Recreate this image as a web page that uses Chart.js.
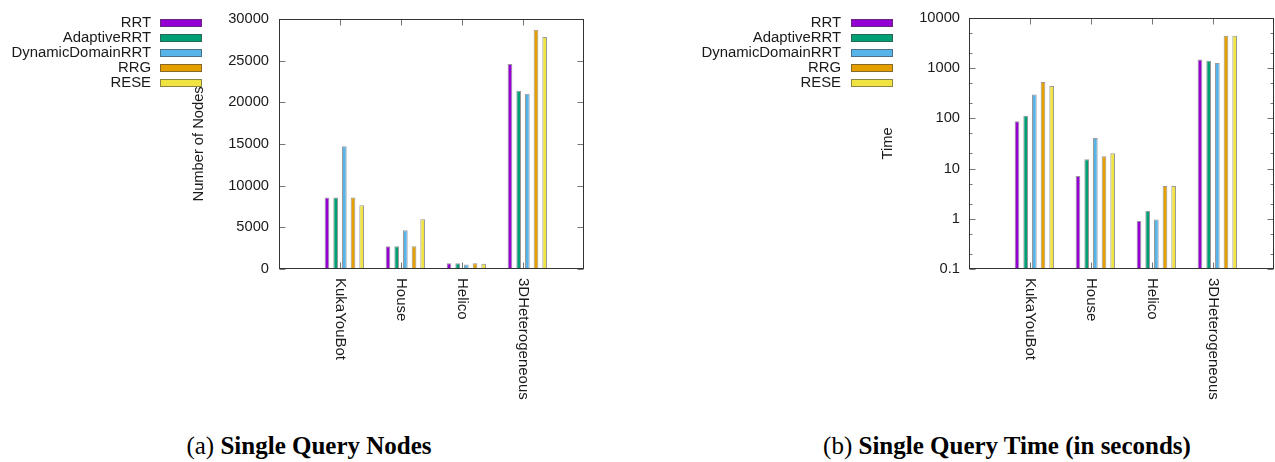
<!DOCTYPE html>
<html><head><meta charset="utf-8">
<script src="https://cdn.jsdelivr.net/npm/chart.js@4"></script>
<style>
html,body{margin:0;padding:0;background:#fff;width:1275px;height:462px;overflow:hidden;position:relative}
canvas{position:absolute;top:0}
#c1{left:0}
#c2{left:637px}
.cap{position:absolute;font-family:'Liberation Serif','Times New Roman',serif;font-size:25px;line-height:26px;color:#000;text-align:center;white-space:nowrap}
.cap b{font-weight:bold}
</style></head><body>
<canvas id="c1" width="637" height="400"></canvas>
<canvas id="c2" width="638" height="400"></canvas>
<div class="cap" style="left:59px;width:500px;top:433px">(a) <b>Single Query Nodes</b></div>
<div class="cap" style="left:757px;width:500px;top:433px">(b) <b>Single Query Time (in seconds)</b></div>
<script>
// ---------- data ----------
const categories = ['KukaYouBot', 'House', 'Helico', '3DHeterogeneous'];
const seriesNames = ['RRT', 'AdaptiveRRT', 'DynamicDomainRRT', 'RRG', 'RESE'];
const seriesColors = ['#9400d3', '#009e73', '#56b4e9', '#e69f00', '#f0e442'];

// Number of nodes
const nodesRRT         = [8580, 2720, 700, 24570];
const nodesAdaptiveRRT = [8580, 2720, 700, 21380];
const nodesDynamicRRT  = [14720, 4650, 550, 21020];
const nodesRRG         = [8580, 2720, 700, 28700];
const nodesRESE        = [7640, 5980, 630, 27830];

// Time (seconds)
const timeRRT         = [87, 7.06, 0.90, 1483];
const timeAdaptiveRRT = [113, 15.3, 1.44, 1396];
const timeDynamicRRT  = [298, 40.3, 0.97, 1256];
const timeRRG         = [529, 17.5, 4.48, 4416];
const timeRESE        = [441, 20.1, 4.48, 4416];

const nodeTicks = [0, 5000, 10000, 15000, 20000, 25000, 30000];
const timeTicks = [0.1, 1, 10, 100, 1000, 10000];

// ---------- helpers ----------
const FONT = "'Liberation Sans', Arial, Helvetica, sans-serif";
const TXT = '#1a1a1a';

function padded(arr) { return [null, ...arr, null]; }

function buildDatasets(seriesArrays) {
  const ds = [{
    label: '', data: padded(categories.map(() => null)),
    backgroundColor: 'rgba(0,0,0,0)', borderWidth: 0,
    categoryPercentage: 0.853, barPercentage: 0.54, spacer: true
  }];
  seriesArrays.forEach((arr, i) => {
    ds.push({
      label: seriesNames[i], data: padded(arr),
      backgroundColor: seriesColors[i],
      borderColor: 'rgba(70,70,70,0.55)', borderWidth: 1,
      categoryPercentage: 0.853, barPercentage: 0.54
    });
  });
  return ds;
}

function decorPlugin(cfg) {
  return {
    id: 'decor',
    afterDraw(chart) {
      const ctx = chart.ctx, a = chart.chartArea;
      const xs = chart.scales.x, ys = chart.scales.y;
      const L = Math.round(a.left) + 0.5, R = Math.round(a.right) - 0.5;
      const T = Math.round(a.top) + 0.5, B = Math.round(a.bottom) - 0.5;
      ctx.save();
      // inward tick marks
      ctx.strokeStyle = '#777'; ctx.lineWidth = 1;
      ctx.beginPath();
      cfg.ticks.forEach(v => {
        const y = Math.round(ys.getPixelForValue(v)) + 0.5;
        ctx.moveTo(L, y); ctx.lineTo(L + 6, y);
        ctx.moveTo(R, y); ctx.lineTo(R - 6, y);
      });
      if (cfg.log) {
        for (let i = 0; i < cfg.ticks.length - 1; i++) {
          [2, 5].forEach(m => {
            const y = Math.round(ys.getPixelForValue(cfg.ticks[i] * m)) + 0.5;
            ctx.moveTo(L, y); ctx.lineTo(L + 3, y);
            ctx.moveTo(R, y); ctx.lineTo(R - 3, y);
          });
        }
      }
      categories.forEach((c, i) => {
        const x = Math.round(xs.getPixelForValue(i + 1)) + 0.5;
        ctx.moveTo(x, T); ctx.lineTo(x, T + 6);
        ctx.moveTo(x, B); ctx.lineTo(x, B - 6);
      });
      ctx.stroke();
      // border
      ctx.strokeStyle = '#333';
      ctx.strokeRect(L, T, R - L, B - T);
      // rotated category labels
      ctx.fillStyle = TXT;
      ctx.font = '15px ' + FONT;
      ctx.textAlign = 'left'; ctx.textBaseline = 'middle';
      categories.forEach((c, i) => {
        const x = xs.getPixelForValue(i + 1);
        ctx.save();
        ctx.translate(x, a.bottom + 9);
        ctx.rotate(Math.PI / 2);
        ctx.fillText(c, 0, 0);
        ctx.restore();
      });
      // legend (text left of swatch)
      ctx.font = '14.9px ' + FONT;
      ctx.textAlign = 'right'; ctx.textBaseline = 'middle';
      chart.data.datasets.filter(d => !d.spacer).forEach((d, i) => {
        const y = 23.2 + 15 * i;
        ctx.fillStyle = TXT;
        ctx.fillText(d.label, cfg.legendTextRight, y);
        ctx.fillStyle = d.backgroundColor;
        ctx.fillRect(cfg.swatchLeft, Math.round(y) - 4, 42, 8);
        ctx.strokeStyle = 'rgba(70,70,70,0.6)';
        ctx.strokeRect(cfg.swatchLeft + 0.5, Math.round(y) - 3.5, 41, 7);
      });
      ctx.restore();
    }
  };
}

function makeChart(id, seriesArrays, yScale, pad, cfg) {
  return new Chart(document.getElementById(id), {
    type: 'bar',
    data: { labels: ['', ...categories, ''], datasets: buildDatasets(seriesArrays) },
    options: {
      responsive: false, animation: false, devicePixelRatio: 1,
      layout: { padding: pad },
      plugins: { legend: { display: false }, tooltip: { enabled: false } },
      scales: {
        x: { type: 'category', display: false, offset: false, grid: { display: false } },
        y: yScale
      }
    },
    plugins: [decorPlugin(cfg)]
  });
}

function setTicks(arr) {
  return function (scale) { scale.ticks = arr.map(v => ({ value: v })); };
}

// ---------- chart (a) ----------
makeChart('c1',
  [nodesRRT, nodesAdaptiveRRT, nodesDynamicRRT, nodesRRG, nodesRESE],
  {
    type: 'linear', min: 0, max: 30000,
    afterBuildTicks: setTicks(nodeTicks),
    ticks: { padding: 10, color: TXT, font: { family: FONT, size: 14.7 }, callback: v => String(v) },
    grid: { display: false, drawTicks: false }, border: { display: false },
    title: { display: true, text: 'Number of Nodes', color: TXT, font: { family: FONT, size: 14.7 }, padding: 0 },
    afterFit(s) { s.width = 89; }
  },
  { left: 190, right: 53, top: 15, bottom: 131 },
  { ticks: nodeTicks, log: false, legendTextRight: 151, swatchLeft: 160 }
);

// ---------- chart (b) ----------
makeChart('c2',
  [timeRRT, timeAdaptiveRRT, timeDynamicRRT, timeRRG, timeRESE],
  {
    type: 'logarithmic', min: 0.1, max: 10000,
    afterBuildTicks: setTicks(timeTicks),
    ticks: { padding: 9, color: TXT, font: { family: FONT, size: 14.7 }, callback: v => String(v) },
    grid: { display: false, drawTicks: false }, border: { display: false },
    title: { display: true, text: 'Time', color: TXT, font: { family: FONT, size: 14.7 }, padding: 0 },
    afterFit(s) { s.width = 90; }
  },
  { left: 242, right: 1, top: 15, bottom: 131 },
  { ticks: timeTicks, log: true, legendTextRight: 204, swatchLeft: 214 }
);
</script>
</body></html>
